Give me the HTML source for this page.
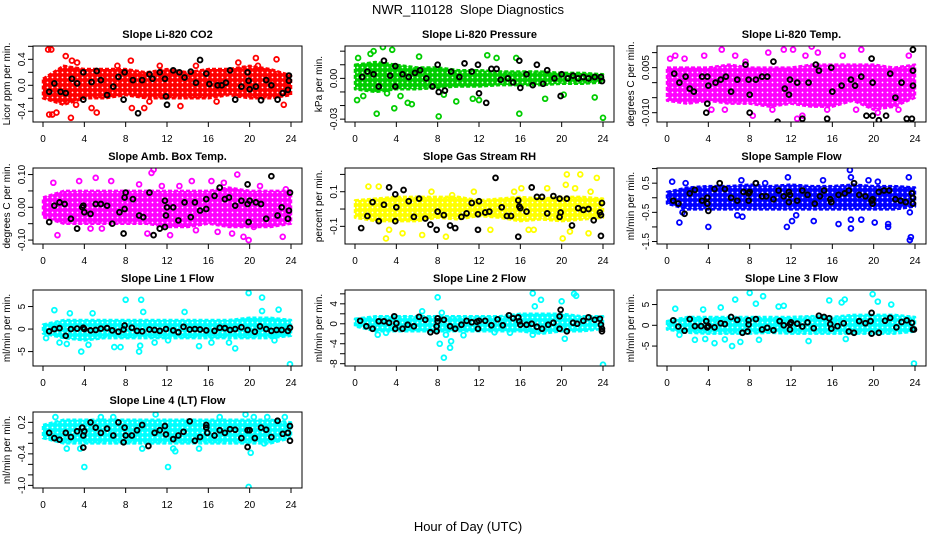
<!DOCTYPE html>
<html><head><meta charset="utf-8">
<style>
html,body{margin:0;padding:0;background:#fff;}
svg{display:block;font-family:"Liberation Sans",Arial,sans-serif;}
</style></head>
<body>
<svg id="chart" width="936" height="540" viewBox="0 0 936 540">
<rect width="936" height="540" fill="#fff"/>
<text x="468" y="14" text-anchor="middle" font-size="13">NWR_110128&#160; Slope Diagnostics</text>
<text x="468" y="531" text-anchor="middle" font-size="13">Hour of Day (UTC)</text>
</svg>
<script>
const bandHours=[0,2,4,6,8,10,12,14,16,18,20,22,24];
const xTicks=[0,4,8,12,16,20,24];

const co2BandLo=[-0.2,-0.3,-0.2,-0.2,-0.15,-0.2,-0.2,-0.2,-0.2,-0.15,-0.2,-0.2,-0.15];
const co2BandHi=[0.1,0.3,0.25,0.25,0.25,0.2,0.25,0.2,0.25,0.25,0.3,0.25,0.15];
const co2Out=[[0.5,0.55],[0.8,0.55],[0.6,-0.45],[0.9,-0.45],[1.3,-0.42],[2.2,0.45],[2.8,0.38],[2.7,-0.5],[3.2,-0.3],[4.7,-0.35],[5.2,-0.42],[7.2,0.3],[8.5,0.38],[8.6,-0.35],[9.8,-0.35],[10.3,-0.25],[11.3,0.3],[13.3,-0.32],[14.8,0.3],[16.8,-0.25],[18.9,0.35],[20.6,0.42],[20.8,0.3],[22.6,0.4],[23.3,-0.3],[3.3,0.35]];
const co2Black=[[0.6,-0.1],[1.1,0.03],[1.7,-0.1],[2.2,-0.12],[2.8,0.1],[3.3,0.03],[3.9,0.2],[3.9,-0.22],[4.7,0.05],[5.2,0.22],[5.6,0.08],[6.2,-0.15],[6.8,-0.02],[7.3,0.13],[7.8,-0.22],[7.9,0.2],[8.7,0.08],[9.2,-0.43],[9.6,0.08],[10.3,0.17],[10.6,0.1],[11.3,0.2],[11.8,0.1],[11.9,-0.17],[12.0,-0.3],[12.6,0.23],[13.2,0.2],[13.7,0.12],[14.3,0.21],[14.8,0.04],[15.2,0.39],[15.8,0.18],[16.1,0.02],[16.9,0],[17.3,0],[17.7,0.04],[18.1,0.23],[18.6,-0.22],[19.2,-0.02],[19.8,0.2],[19.9,0.07],[20.0,-0.06],[20.6,-0.02],[21.1,-0.23],[21.6,0.08],[22.1,0],[22.7,-0.22],[23.2,-0.12],[23.8,0.15],[23.8,0.07],[23.7,-0.07]];

const presBandLo=[-0.008,-0.01,-0.008,-0.008,-0.007,-0.006,-0.006,-0.005,-0.005,-0.005,-0.004,-0.004,-0.003];
const presBandHi=[0.01,0.012,0.01,0.008,0.008,0.006,0.006,0.005,0.005,0.005,0.004,0.004,0.003];
const presOut=[[0.2,-0.016],[0.3,0.015],[0.8,-0.013],[1.5,0.018],[1.8,0.02],[2.1,-0.026],[2.7,0.023],[3.1,-0.011],[3.8,-0.022],[3.6,0.021],[4.4,-0.013],[5.1,-0.018],[5.5,-0.019],[6.2,0.016],[8.1,-0.028],[8.6,-0.012],[9.8,-0.017],[11.4,-0.015],[12.0,-0.016],[12.8,0.017],[13.7,0.015],[15.9,-0.026],[15.6,0.015],[18.4,-0.015],[20.2,-0.012],[23.2,-0.014],[24,-0.029]];
const presBlack=[[0.7,0.001],[1.2,0.005],[1.8,0.003],[2.3,-0.006],[2.8,0.013],[3.4,0.002],[3.9,0.009],[3.9,-0.006],[4.6,0.003],[5.2,0.001],[5.8,0.004],[6.3,0.006],[6.9,0],[7.5,-0.006],[8.0,0.01],[8.1,-0.01],[8.7,-0.009],[9.3,0.005],[10.1,0.001],[10.6,0.011],[11.3,0.005],[11.9,0.01],[12.0,-0.011],[12.7,-0.018],[13.2,0.007],[13.7,0.007],[14.1,-0.001],[14.8,0],[15.3,-0.003],[15.9,0.013],[16.0,-0.007],[16.6,0.003],[17.2,-0.005],[17.6,0.01],[18.2,-0.004],[18.6,0.006],[19.3,0],[19.9,-0.013],[20.0,0.003],[20.6,0],[21.1,0.002],[21.6,0],[22.1,0.001],[22.6,0],[23.2,0.001],[23.8,0.001],[23.9,-0.002]];

const tempBandLo=[-0.006,-0.007,-0.006,-0.007,-0.007,-0.008,-0.007,-0.008,-0.008,-0.006,-0.009,-0.008,-0.005];
const tempBandHi=[0.005,0.005,0.005,0.006,0.005,0.005,0.005,0.006,0.006,0.006,0.006,0.005,0.006];
const tempOut=[[0.3,0.008],[0.8,0.009],[1.7,0.008],[3.6,0.009],[5.3,0.011],[6.6,0.009],[7.6,0.007],[9.8,0.01],[11.3,0.011],[12.2,0.011],[13.4,0.009],[14.0,0.012],[14.6,0.01],[17.0,0.009],[18.8,0.011],[4.3,-0.009],[5.6,-0.009],[8.3,-0.011],[10.2,-0.009],[12.6,-0.012],[13.1,-0.011],[15.5,-0.009],[18.3,-0.009],[20.4,-0.01],[22.4,-0.009],[23.4,0.009]];
const tempBlack=[[0.7,0.003],[1.2,0],[1.8,0.002],[2.2,-0.002],[2.6,-0.003],[3.4,0.002],[3.9,0.002],[3.9,-0.007],[3.8,-0.01],[4.0,-0.001],[4.7,0],[5.2,0.001],[5.7,0.002],[6.2,-0.003],[6.8,0.001],[7.6,0.006],[7.9,0.001],[8.0,-0.004],[8.0,-0.01],[8.6,0.001],[9.2,0.002],[9.7,0.002],[10.3,0.007],[10.7,-0.013],[11.4,-0.002],[11.8,-0.004],[11.9,0.001],[12.6,0],[13.1,-0.012],[13.7,0],[14.4,0.006],[14.7,0.004],[15.5,-0.012],[15.9,0.005],[16.0,-0.003],[16.9,-0.001],[17.8,0.001],[18.2,-0.001],[18.8,0.002],[19.3,-0.011],[19.8,0.008],[19.9,0],[19.9,-0.011],[20.5,-0.0125],[21.2,-0.011],[21.6,0.003],[22.1,-0.005],[22.7,0],[23.2,-0.012],[23.7,-0.012],[23.8,0.004],[23.8,-0.001],[23.8,0.011]];

const ambBandLo=[-0.03,-0.05,-0.05,-0.05,-0.05,-0.05,-0.06,-0.06,-0.05,-0.06,-0.06,-0.06,-0.05];
const ambBandHi=[0.03,0.05,0.05,0.05,0.05,0.05,0.05,0.05,0.05,0.06,0.05,0.05,0.05];
const ambOut=[[1.0,0.075],[1.4,-0.085],[3.5,0.08],[5.1,0.09],[6.6,0.08],[4.6,-0.065],[5.7,-0.065],[9.3,0.07],[10.5,0.105],[10.7,0.115],[11.5,0.065],[10.1,-0.08],[12.3,-0.085],[13.2,0.065],[14.4,0.08],[14.8,-0.07],[16.3,0.08],[16.9,-0.075],[17.5,0.075],[18.3,-0.08],[18.8,0.1],[19.4,-0.09],[19.9,-0.1],[20.4,-0.06],[21.0,0.065],[23.2,-0.09],[23.5,0.055]];
const ambBlack=[[0.6,-0.045],[1.1,0.005],[1.6,0.015],[2.1,0.01],[2.7,-0.035],[3.3,-0.065],[3.8,0],[3.9,0.005],[4.0,-0.015],[4.6,-0.02],[5.1,0.01],[5.6,0.01],[6.2,0.005],[6.7,-0.05],[7.4,-0.015],[7.8,-0.08],[7.9,0.03],[8.0,0.045],[7.9,-0.005],[8.7,0.025],[9.3,-0.025],[9.7,-0.03],[10.3,0.045],[10.7,-0.085],[11.3,-0.065],[11.8,-0.06],[11.8,0.02],[11.9,-0.025],[12.0,0],[12.6,0],[13.1,-0.04],[13.7,0.015],[14.3,-0.03],[14.7,0.015],[15.2,-0.01],[15.8,0.025],[15.8,-0.005],[16.6,0.035],[17.1,0.06],[17.6,0.025],[18.0,0.03],[18.6,0.005],[19.2,0.02],[19.8,0.07],[19.8,0.01],[19.9,-0.045],[20.0,0.02],[20.6,0.015],[21.1,0.01],[21.6,-0.035],[22.1,0.095],[22.7,-0.025],[23.1,0],[23.7,-0.035],[23.8,-0.01],[23.9,0.045]];

const rhBandLo=[-0.05,-0.07,-0.07,-0.07,-0.05,-0.06,-0.04,-0.05,-0.07,-0.06,-0.07,-0.06,-0.05];
const rhBandHi=[0.05,0.06,0.07,0.07,0.07,0.07,0.05,0.06,0.07,0.06,0.07,0.07,0.06];
const rhOut=[[1.3,0.13],[2.3,0.13],[3.0,-0.17],[3.3,-0.12],[4.6,-0.14],[6.5,-0.15],[7.4,0.1],[8.8,-0.16],[9.4,0.08],[11.5,0.1],[13.1,-0.12],[15.4,0.1],[16.8,-0.12],[18.6,0.12],[20.1,-0.17],[20.4,0.14],[20.8,-0.13],[21.3,0.12],[21.8,0.2],[22.8,0.1],[23.4,0.18],[22.6,-0.14],[16.1,0.12],[17.3,-0.12],[20.5,0.2]];
const rhBlack=[[0.6,-0.11],[1.2,-0.04],[1.7,0.04],[2.3,-0.07],[2.8,0.025],[3.3,0.125],[3.9,-0.07],[3.9,0.085],[4.0,0.01],[4.7,0.11],[5.2,0.045],[5.7,-0.045],[6.2,0.06],[6.8,-0.055],[7.3,-0.09],[7.9,-0.12],[8.0,-0.015],[8.6,-0.035],[9.2,-0.095],[9.7,-0.11],[10.3,-0.045],[10.8,-0.025],[11.3,0.035],[11.9,-0.12],[11.9,-0.03],[12.0,0.045],[12.6,-0.02],[13.0,-0.015],[13.6,0.18],[14.2,0.01],[14.7,-0.04],[15.1,-0.04],[15.8,-0.16],[15.8,0.05],[15.9,0.015],[16.0,0.005],[16.6,-0.015],[17.1,0.125],[17.6,0.07],[18.1,0.07],[18.6,-0.025],[19.2,0.075],[19.8,-0.045],[19.8,0.06],[19.9,-0.02],[20.5,0.06],[21.0,-0.095],[21.6,0.005],[22.1,-0.005],[22.6,0],[23.1,-0.065],[23.7,-0.02],[23.8,-0.035],[23.8,-0.155],[23.9,0.035]];

const sfBandLo=[-0.2,-0.4,-0.4,-0.4,-0.4,-0.4,-0.4,-0.4,-0.4,-0.4,-0.4,-0.4,-0.3];
const sfBandHi=[0.2,0.35,0.4,0.4,0.45,0.4,0.45,0.4,0.4,0.45,0.4,0.4,0.35];
const sfOut=[[0.5,0.55],[1.2,-0.85],[1.5,-0.5],[1.8,0.5],[4.0,-1.0],[6.8,-0.6],[7.2,0.6],[7.3,-0.65],[8.6,0.5],[9.5,0.5],[11.7,0.7],[11.6,-1.0],[12.1,-0.8],[12.5,-0.6],[14.2,-0.8],[15.1,0.6],[16.6,-0.9],[17.7,0.95],[17.8,0.7],[17.8,-1.05],[17.8,-0.75],[18.8,-0.75],[19.5,0.6],[20.1,-0.85],[20.4,0.55],[21.4,-0.9],[21.4,-1.0],[23.4,0.7],[23.5,-1.45],[23.6,-1.35],[23.5,-0.5]];
const sfBlack=[[0.6,-0.1],[1.1,-0.2],[1.7,-0.55],[2.2,0.15],[2.7,0.27],[3.4,-0.1],[3.9,0],[3.9,-0.2],[4.0,-0.45],[4.6,0.3],[5.1,0.5],[5.6,0.3],[6.2,0],[6.8,-0.1],[7.4,0.2],[7.9,-0.1],[7.9,0.15],[8.0,0.2],[8.6,0.5],[9.2,0.05],[9.6,0.05],[10.3,-0.05],[10.8,0.25],[11.3,0.05],[11.8,-0.15],[11.8,0.2],[11.9,0.1],[12.6,-0.1],[13.1,0.25],[13.6,0.1],[14.3,-0.2],[14.8,0.05],[15.2,0.25],[15.8,-0.05],[15.9,-0.15],[16.6,0.1],[17.2,0.15],[17.6,0.25],[18.1,0.5],[18.6,0.1],[19.2,0.05],[19.8,-0.1],[19.9,-0.05],[19.9,-0.2],[20.5,0.2],[21.0,0.25],[21.5,0.25],[22.1,-0.05],[22.6,-0.1],[23.1,-0.15],[23.7,0.15],[23.8,0],[23.8,-0.2]];

const l1BandLo=[-1,-2,-2.5,-2,-2,-2,-2,-2,-2,-2,-2,-2,-1.5];
const l1BandHi=[1,2,2,2,2,2,2,2,2,2,2.5,2.5,2];
const l1Out=[[0.3,-2],[1.1,4.2],[1.6,-3],[2.3,-3.3],[2.6,3.5],[3.7,-5],[4.4,-3.5],[4.8,3.5],[6.9,-4],[7.5,-4],[8.0,6.5],[9.3,-5],[9.4,-3.7],[9.5,6.5],[9.7,3.8],[10.8,-3],[12.1,-2.5],[13.7,3.8],[15.1,-3.8],[16.3,-3],[18.0,-3],[18.6,-4.3],[19.9,8],[21.2,7],[21.2,4],[22.4,-2.5],[22.8,4.3],[23.9,-7.8]];
const l1Black=[[0.6,-0.5],[1.1,0],[1.6,0.2],[2.2,-1.5],[2.7,0],[3.3,0.1],[3.9,0.3],[4.0,0],[4.6,-0.3],[5.1,-0.2],[5.6,0.1],[6.2,0.2],[6.7,-0.3],[7.3,-0.6],[7.8,-0.1],[7.9,0.8],[8.6,0.3],[9.1,-0.4],[9.6,-0.5],[10.3,-0.1],[10.8,-0.2],[11.3,-0.4],[11.9,0],[12.6,-0.3],[13.1,-0.7],[13.6,0.5],[14.2,-0.1],[14.7,0],[15.2,-0.1],[15.8,-0.3],[16.6,-0.4],[17.1,0.3],[17.6,0.2],[18.1,-0.2],[18.6,0],[19.2,0.4],[19.8,-0.2],[20.5,-0.6],[21.0,0.6],[21.6,0],[22.1,-0.4],[22.6,-0.2],[23.1,-0.2],[23.7,-0.4],[23.9,0.3]];

const l2BandLo=[-0.5,-1.5,-1.5,-1.5,-1.5,-1.5,-1.5,-1.5,-1.5,-2,-1.5,-1.5,-1];
const l2BandHi=[1,1.5,1.5,1.5,1.5,1.5,1.5,1.5,2,2,2,1.5,1.5];
const l2Out=[[2.2,-2.2],[3.0,-1.8],[6.5,2.5],[8.0,5.3],[8.4,2.2],[8.2,-4],[8.6,-6.8],[8.8,-2.2],[9.2,-4.8],[9.3,-3.5],[10.5,-2.3],[13.5,-1.7],[15.0,-1.8],[17.2,6.1],[17.4,3.5],[18.0,4.8],[17.2,-2.2],[20.0,4.5],[20.3,-3],[21.2,6],[21.4,5.6],[24.0,-8.2]];
const l2Black=[[0.5,0.6],[1.1,-0.5],[1.7,-1],[2.3,0.5],[2.8,0.5],[3.3,0.2],[3.8,1.5],[3.9,-1],[4.0,0.1],[4.6,-1],[5.1,-0.2],[5.7,-0.5],[6.2,1.4],[6.8,0.8],[7.3,-1.7],[7.9,-1.5],[7.9,-0.5],[8.0,0.5],[8.0,1.1],[8.6,0.8],[9.2,-0.5],[9.7,-1],[10.3,-0.2],[10.8,0.6],[11.3,0.3],[11.8,0.4],[11.9,-1],[12.0,0.6],[12.6,0.6],[13.2,-0.3],[13.8,0.9],[14.3,-0.3],[14.9,1.7],[15.3,1.1],[15.8,1.3],[15.9,0.5],[16.0,-0.2],[16.6,-0.2],[17.1,0],[17.6,-0.6],[18.1,-1],[18.7,-0.2],[19.2,0.2],[19.8,1.5],[19.9,2.8],[19.8,-1],[20.5,-1.5],[21.1,0.2],[21.5,0],[22.1,0.6],[22.6,1.3],[23.2,0.8],[23.7,1],[23.8,-0.2],[23.9,-1],[23.9,-1.5]];

const l3BandLo=[-1,-1.8,-2,-2,-2,-1.8,-2,-2,-2,-2,-2,-2,-1.5];
const l3BandHi=[1,2,2,2,2,2,2,2.2,2,2.5,2.5,2.5,2];
const l3Out=[[0.8,4],[1.2,-2.3],[2.7,-3.5],[3.5,3.8],[3.7,-3.3],[4.6,-4.3],[5.2,4.3],[5.6,-3.4],[6.3,-5],[6.6,6.2],[7.1,-4],[8.0,7.8],[8.6,5.2],[8.9,-3.5],[9.3,7],[10.8,4.5],[11.3,4.7],[13.7,-3.8],[15.7,6],[16.9,5.5],[17.2,6.2],[17.3,-3.3],[19.9,7.5],[20.4,5.7],[21.7,5],[23.9,-9.2]];
const l3Black=[[0.6,1.2],[1.1,-0.3],[1.7,-1.3],[2.2,1.5],[2.7,-0.2],[3.3,-0.2],[3.8,1],[3.9,-0.5],[4.0,-0.2],[4.6,-0.5],[5.2,0.5],[5.6,0.3],[6.2,2],[6.8,1.3],[7.3,-1.8],[7.8,-1.5],[7.9,0.2],[7.9,1.2],[8.6,1.5],[9.2,-1],[9.7,-0.6],[10.3,-1.2],[10.9,1],[11.3,0],[11.9,-1],[11.9,0.3],[12.0,0.7],[12.6,0.4],[13.1,-0.3],[13.6,0.7],[14.2,-0.7],[14.7,2.3],[15.2,2],[15.7,1.7],[15.8,0.3],[15.9,-0.8],[16.5,-0.2],[17.1,0.5],[17.6,-1.5],[18.1,-1.8],[18.6,1],[19.2,0.5],[19.7,1],[19.8,3],[19.8,-2],[20.5,-1.8],[21.1,1.1],[21.6,1.8],[22.2,-0.5],[22.7,0.8],[23.2,1.2],[23.7,0.6],[23.8,-1],[23.9,-1]];

const l4BandLo=[-0.1,-0.2,-0.2,-0.2,-0.2,-0.2,-0.2,-0.2,-0.2,-0.2,-0.2,-0.2,-0.1];
const l4BandHi=[0.15,0.25,0.25,0.25,0.25,0.25,0.25,0.25,0.25,0.25,0.25,0.25,0.2];
const l4Out=[[1.2,0.3],[2.3,-0.3],[3.6,-0.3],[4.0,-0.65],[5.6,0.3],[6.8,0.3],[9.6,-0.3],[10.9,0.35],[12.1,-0.65],[12.6,-0.3],[12.8,-0.35],[15.1,-0.3],[17.1,0.3],[19.6,0.35],[20.1,-0.38],[20.4,0.3],[19.9,-1.03],[21.4,-0.2],[23.4,0.3],[21.7,0.3]];
const l4Black=[[0.6,0],[1.1,-0.1],[1.6,-0.13],[2.2,0],[2.7,-0.08],[3.3,0.03],[3.8,0.1],[3.9,-0.05],[3.9,-0.28],[4.0,0.03],[4.6,0.2],[5.1,0.1],[5.6,0],[6.2,0.08],[6.8,-0.05],[7.3,0.2],[7.8,-0.18],[7.9,0.1],[8.0,-0.05],[8.6,-0.05],[9.1,0.05],[9.6,0.15],[10.2,-0.25],[10.8,0],[11.3,0.05],[11.8,0.13],[11.9,-0.03],[12.6,-0.12],[13.1,-0.05],[13.6,0.02],[14.2,0.22],[14.7,-0.15],[15.2,-0.08],[15.8,0.1],[15.8,0.15],[15.9,0],[16.6,-0.05],[17.1,0.05],[17.6,0],[18.1,0.07],[18.6,0.06],[19.2,-0.1],[19.8,-0.27],[19.8,0.05],[20.0,0.05],[20.5,-0.1],[21.1,0.1],[21.6,0.06],[22.1,-0.08],[22.7,0.23],[23.2,-0.02],[23.7,0],[23.9,0.13],[23.9,-0.15]];

const panels=[
 {name:'co2',title:'Slope Li-820 CO2',ylab:'Licor ppm per min.',col:'#ff0000',ylim:[-0.565,0.605],ticks:[-0.4,-0.2,0,0.2,0.4,0.6],labels:{'-0.4':'-0.4','0':'0.0','0.4':'0.4'},lo:co2BandLo,hi:co2BandHi,out:co2Out,blk:co2Black},
 {name:'pressure',title:'Slope Li-820 Pressure',ylab:'kPa per min.',col:'#00cd00',ylim:[-0.0321,0.0238],ticks:[-0.03,-0.02,-0.01,0,0.01,0.02],labels:{'-0.03':'-0.03','0':'0.00'},lo:presBandLo,hi:presBandHi,out:presOut,blk:presBlack},
 {name:'temp',title:'Slope Li-820 Temp.',ylab:'degrees C per min.',col:'#ff00ff',ylim:[-0.0131,0.0122],ticks:[-0.01,-0.005,0,0.005,0.01],labels:{'-0.01':'-0.010','0.005':'0.005'},lo:tempBandLo,hi:tempBandHi,out:tempOut,blk:tempBlack},
 {name:'amb-box-temp',title:'Slope Amb. Box Temp.',ylab:'degrees C per min.',col:'#ff00ff',ylim:[-0.112,0.12],ticks:[-0.1,-0.05,0,0.05,0.1],labels:{'-0.1':'-0.10','0':'0.00','0.1':'0.10'},lo:ambBandLo,hi:ambBandHi,out:ambOut,blk:ambBlack},
 {name:'gas-stream-rh',title:'Slope Gas Stream RH',ylab:'percent per min.',col:'#ffff00',ylim:[-0.202,0.237],ticks:[-0.1,0,0.1,0.2],labels:{'-0.1':'-0.1','0.1':'0.1'},lo:rhBandLo,hi:rhBandHi,out:rhOut,blk:rhBlack},
 {name:'sample-flow',title:'Slope Sample Flow',ylab:'ml/min per min.',col:'#0000ff',ylim:[-1.585,1.02],ticks:[-1.5,-1,-0.5,0,0.5,1],labels:{'-1.5':'-1.5','-0.5':'-0.5','0.5':'0.5'},lo:sfBandLo,hi:sfBandHi,out:sfOut,blk:sfBlack},
 {name:'line1-flow',title:'Slope Line 1 Flow',ylab:'ml/min per min.',col:'#00ffff',ylim:[-8.2,8.67],ticks:[-5,0,5],labels:{'-5':'-5','0':'0','5':'5'},lo:l1BandLo,hi:l1BandHi,out:l1Out,blk:l1Black},
 {name:'line2-flow',title:'Slope Line 2 Flow',ylab:'ml/min per min.',col:'#00ffff',ylim:[-8.46,6.77],ticks:[-8,-6,-4,-2,0,2,4,6],labels:{'-8':'-8','-4':'-4','0':'0','4':'4'},lo:l2BandLo,hi:l2BandHi,out:l2Out,blk:l2Black},
 {name:'line3-flow',title:'Slope Line 3 Flow',ylab:'ml/min per min.',col:'#00ffff',ylim:[-9.8,8.5],ticks:[-5,0,5],labels:{'-5':'-5','0':'0','5':'5'},lo:l3BandLo,hi:l3BandHi,out:l3Out,blk:l3Black},
 {name:'line4-flow',title:'Slope Line 4 (LT) Flow',ylab:'ml/min per min.',col:'#00ffff',ylim:[-1.05,0.397],ticks:[-1,-0.8,-0.6,-0.4,-0.2,0,0.2],labels:{'-1':'-1.0','-0.4':'-0.4','0.2':'0.2'},lo:l4BandLo,hi:l4BandHi,out:l4Out,blk:l4Black}
];

const NS='http://www.w3.org/2000/svg';
const svg=document.getElementById('chart');
function mk(tag,attrs,parent){const e=document.createElementNS(NS,tag);for(const k in attrs)e.setAttribute(k,attrs[k]);(parent||svg).appendChild(e);return e;}
const defs=mk('defs',{});

panels.forEach((p,i)=>{
  const c=i%3, r=Math.floor(i/3);
  const L=33+312*c, R=302+312*c, T=46+122*r, B=122+122*r;
  const xs=h=>43+312*c+(h/24)*248;
  const ys=v=>B-(v-p.ylim[0])/(p.ylim[1]-p.ylim[0])*(B-T);
  // ring texture pattern in series colour
  const pat=mk('pattern',{id:'pat'+i,width:5,height:5,patternUnits:'userSpaceOnUse'},defs);
  mk('rect',{width:5,height:5,fill:p.col},pat);
  mk('circle',{cx:2.5,cy:2.5,r:0.9,fill:'#fff'},pat);
  const g=mk('g',{});
  
  
  const clipId='clip'+i;
  const cp=mk('clipPath',{id:clipId},g);
  mk('rect',{x:L,y:T,width:R-L,height:B-T},cp);
  const plot=mk('g',{'clip-path':'url(#'+clipId+')'},g);
  let pts=bandHours.map((h,k)=>xs(h)+','+ys(p.hi[k]));
  pts=pts.concat(bandHours.slice().reverse().map((h,k)=>xs(h)+','+ys(p.lo[bandHours.length-1-k])));
  const band=mk('polygon',{points:pts.join(' '),fill:'url(#pat'+i+')',stroke:p.col,'stroke-width':2.5,'stroke-linejoin':'round','stroke-dasharray':'4 2'},plot);
  
  
  p.out.forEach(d=>{
    const ci=mk('circle',{cx:xs(d[0]),cy:ys(d[1]),r:2.4,fill:'none',stroke:p.col,'stroke-width':1.8},plot);
    
    
  });
  p.blk.forEach(d=>{
    const ci=mk('circle',{cx:xs(d[0]),cy:ys(d[1]),r:2.4,fill:'none',stroke:'#000','stroke-width':1.9},plot);
    
    
  });
  const box=mk('rect',{x:L,y:T,width:R-L,height:B-T,fill:'none',stroke:'#000','stroke-width':1},g);
  
  
  const t=mk('text',{x:(L+R)/2,y:T-8,'text-anchor':'middle','font-size':11,'font-weight':'bold'},g);
  t.textContent=p.title;
  
  
  xTicks.forEach(h=>{
    mk('line',{x1:xs(h),x2:xs(h),y1:B,y2:B+5,stroke:'#000'},g);
    const tx=mk('text',{x:xs(h),y:B+20,'text-anchor':'middle','font-size':10},g);
    tx.textContent=h;
    
    
  });
  p.ticks.forEach(v=>{
    const y=ys(v);
    mk('line',{x1:L-5,x2:L,y1:y,y2:y,stroke:'#000'},g);
    const key=String(v);
    if(p.labels[key]!==undefined){
      const ty=mk('text',{x:L-8,y:y,'text-anchor':'middle','font-size':10,transform:'rotate(-90 '+(L-8)+' '+y+')'},g);
      ty.textContent=p.labels[key];
      
      
    }
  });
  const yl=mk('text',{x:L-23,y:(T+B)/2,'text-anchor':'middle','font-size':10,transform:'rotate(-90 '+(L-23)+' '+((T+B)/2)+')'},g);
  yl.textContent=p.ylab;
  
  
});
</script>
</body></html>
